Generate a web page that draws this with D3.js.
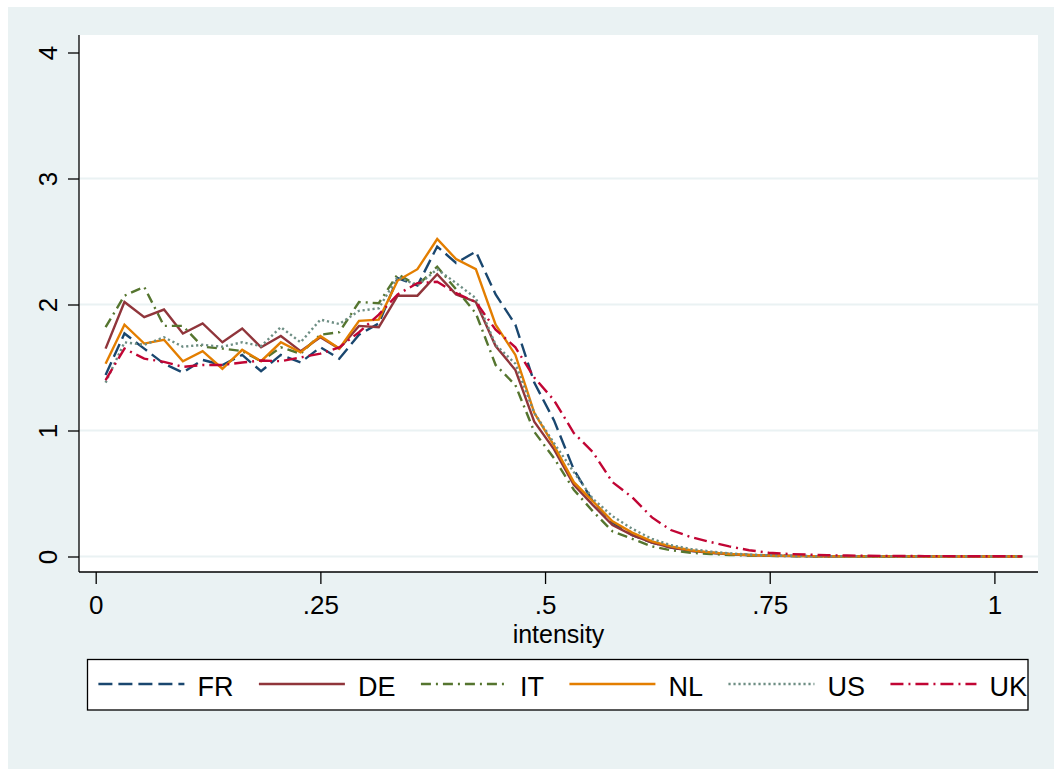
<!DOCTYPE html>
<html>
<head>
<meta charset="utf-8">
<script src="https://cdn.jsdelivr.net/npm/d3@7"></script>
<style>
    body { margin: 0; background: #fff; }
    svg { display: block; font-family: "Liberation Sans", Arial, Helvetica, sans-serif; }
</style>
</head>
<body>
<svg id="chart" width="1054" height="769"></svg>
<script>
/*global d3 */

// bin positions on the intensity axis
var intensity = [0.011, 0.032, 0.054, 0.076, 0.097, 0.119, 0.141, 0.163, 0.184, 0.206,
    0.228, 0.250, 0.271, 0.293, 0.315, 0.336, 0.358, 0.380, 0.401, 0.423,
    0.445, 0.467, 0.488, 0.510, 0.532, 0.553, 0.575, 0.597, 0.619, 0.640,
    0.662, 0.684, 0.705, 0.727, 0.749, 0.771, 0.792, 0.814, 0.836, 0.858,
    0.879, 0.901, 0.923, 0.944, 0.966, 0.988, 1.010, 1.031];

var countries = ['FR', 'DE', 'IT', 'NL', 'US', 'UK'];

var frDensity = [1.44, 1.77, 1.65, 1.53, 1.46, 1.56, 1.52, 1.60, 1.47, 1.60,
    1.54, 1.66, 1.57, 1.76, 1.85, 2.21, 2.15, 2.46, 2.33, 2.42,
    2.08, 1.84, 1.38, 1.08, 0.69, 0.44, 0.27, 0.17, 0.11, 0.07,
    0.045, 0.03, 0.02, 0.013, 0.008, 0.005, 0.003, 0.002, 0.001, 0.001,
    0, 0, 0, 0, 0, 0, 0, 0];

var deDensity = [1.65, 2.02, 1.90, 1.96, 1.77, 1.85, 1.70, 1.81, 1.66, 1.75,
    1.63, 1.74, 1.65, 1.83, 1.82, 2.07, 2.07, 2.24, 2.08, 2.02,
    1.67, 1.48, 1.07, 0.85, 0.57, 0.41, 0.25, 0.17, 0.11, 0.07,
    0.045, 0.03, 0.018, 0.01, 0.006, 0.004, 0.003, 0.002, 0.001, 0.001,
    0, 0, 0, 0, 0, 0, 0, 0];

var itDensity = [1.82, 2.07, 2.14, 1.83, 1.83, 1.665, 1.65, 1.63, 1.55, 1.66,
    1.61, 1.76, 1.78, 2.02, 2.01, 2.24, 2.15, 2.30, 2.12, 1.93,
    1.52, 1.36, 0.99, 0.78, 0.53, 0.36, 0.20, 0.14, 0.08, 0.05,
    0.03, 0.02, 0.012, 0.008, 0.005, 0.003, 0.002, 0.001, 0.001, 0,
    0, 0, 0, 0, 0, 0, 0, 0];

var nlDensity = [1.53, 1.84, 1.69, 1.72, 1.55, 1.63, 1.49, 1.64, 1.55, 1.70,
    1.62, 1.75, 1.65, 1.87, 1.88, 2.19, 2.28, 2.52, 2.36, 2.28,
    1.84, 1.60, 1.14, 0.88, 0.59, 0.44, 0.28, 0.19, 0.12, 0.08,
    0.05, 0.033, 0.02, 0.012, 0.007, 0.005, 0.003, 0.002, 0.001, 0.001,
    0.001, 0.001, 0, 0, 0, 0, 0, 0];

var usDensity = [1.38, 1.70, 1.68, 1.74, 1.665, 1.68, 1.665, 1.70, 1.67, 1.82,
    1.70, 1.88, 1.845, 1.95, 1.97, 2.22, 2.15, 2.28, 2.17, 2.05,
    1.68, 1.53, 1.14, 0.90, 0.67, 0.46, 0.32, 0.22, 0.14, 0.09,
    0.06, 0.04, 0.025, 0.015, 0.01, 0.006, 0.004, 0.002, 0.002, 0.001,
    0.001, 0, 0, 0, 0, 0, 0, 0];

var ukDensity = [1.40, 1.65, 1.57, 1.545, 1.505, 1.52, 1.52, 1.54, 1.555, 1.55,
    1.58, 1.61, 1.66, 1.78, 1.92, 2.08, 2.17, 2.18, 2.09, 2.02,
    1.80, 1.66, 1.42, 1.24, 0.98, 0.83, 0.59, 0.47, 0.31, 0.21,
    0.155, 0.115, 0.08, 0.05, 0.03, 0.02, 0.015, 0.01, 0.008, 0.006,
    0.005, 0.004, 0.003, 0.003, 0.002, 0.002, 0.002, 0.001];

var xTicks = [0, 0.25, 0.5, 0.75, 1];
var xTickLabels = ['0', '.25', '.5', '.75', '1'];
var yTicks = [0, 1, 2, 3, 4];
var yTickLabels = ['0', '1', '2', '3', '4'];
var xTitle = 'intensity';

var densities = {
    FR: frDensity, DE: deDensity, IT: itDensity,
    NL: nlDensity, US: usDensity, UK: ukDensity
};

var lineStyles = {
    FR: { color: '#1a476f', dash: '14,6' },
    DE: { color: '#90353b', dash: null },
    IT: { color: '#55752f', dash: '10,5,2,5' },
    NL: { color: '#e37e00', dash: null },
    US: { color: '#6e8e84', dash: '2.2,2.8' },
    UK: { color: '#c10534', dash: '13,5,2,5' }
};

var bgColor = '#eaf2f3';
var plotBox = { left: 79, top: 35, right: 1038, bottom: 572 };

var $svg = d3.select('#chart');

$svg.append('rect')
    .attr('x', 8).attr('y', 7)
    .attr('width', 1046).attr('height', 762)
    .attr('fill', bgColor);

$svg.append('rect')
    .attr('x', plotBox.left).attr('y', plotBox.top)
    .attr('width', plotBox.right - plotBox.left)
    .attr('height', plotBox.bottom - plotBox.top)
    .attr('fill', '#fff');

var x = d3.scaleLinear().domain([0, 1]).range([95.7, 994.4]);
var y = d3.scaleLinear().domain([0, 4]).range([556.5, 52.5]);

// gridlines (none at the top tick)
$svg.append('g')
    .selectAll('line')
    .data(yTicks.slice(0, -1))
    .enter().append('line')
    .attr('x1', plotBox.left)
    .attr('x2', plotBox.right)
    .attr('y1', function (d) { return y(d); })
    .attr('y2', function (d) { return y(d); })
    .attr('stroke', bgColor)
    .attr('stroke-width', 2);

var line = d3.line()
    .x(function (d) { return x(d[0]); })
    .y(function (d) { return y(d[1]); });

var $lines = $svg.append('g');
countries.forEach(function (c) {
    var pts = intensity.map(function (v, i) { return [v, densities[c][i]]; });
    $lines.append('path')
        .datum(pts)
        .attr('d', line)
        .attr('fill', 'none')
        .attr('stroke', lineStyles[c].color)
        .attr('stroke-width', 2.4)
        .attr('stroke-dasharray', lineStyles[c].dash);
});

// axes
var $yAxis = $svg.append('g')
    .attr('transform', 'translate(' + plotBox.left + ',0)')
    .call(d3.axisLeft(y)
        .tickValues(yTicks)
        .tickFormat(function (d, i) { return yTickLabels[i]; })
        .tickSize(11)
        .tickSizeOuter(0));
$yAxis.select('.domain').remove();
$yAxis.selectAll('.tick line').attr('stroke', '#000').attr('stroke-width', 1.3);
$yAxis.selectAll('text')
    .attr('x', null)
    .attr('dy', null)
    .attr('transform', 'translate(-22,0) rotate(-90)')
    .attr('fill', '#000')
    .style('font-size', '26px')
    .style('font-family', 'inherit')
    .style('text-anchor', 'middle');

var $xAxis = $svg.append('g')
    .attr('transform', 'translate(0,' + plotBox.bottom + ')')
    .call(d3.axisBottom(x)
        .tickValues(xTicks)
        .tickFormat(function (d, i) { return xTickLabels[i]; })
        .tickSize(12)
        .tickSizeOuter(0));
$xAxis.select('.domain').remove();
$xAxis.selectAll('.tick line').attr('stroke', '#000').attr('stroke-width', 1.3);
$xAxis.selectAll('text')
    .attr('y', 42)
    .attr('dy', null)
    .attr('fill', '#000')
    .style('font-size', '26px')
    .style('font-family', 'inherit');

$svg.append('line')
    .attr('x1', plotBox.left).attr('x2', plotBox.left)
    .attr('y1', plotBox.top).attr('y2', plotBox.bottom)
    .attr('stroke', '#000').attr('stroke-width', 1.3);
$svg.append('line')
    .attr('x1', plotBox.left).attr('x2', plotBox.right)
    .attr('y1', plotBox.bottom).attr('y2', plotBox.bottom)
    .attr('stroke', '#000').attr('stroke-width', 1.3);

$svg.append('text')
    .attr('x', (plotBox.left + plotBox.right) / 2)
    .attr('y', 643)
    .attr('text-anchor', 'middle')
    .style('font-size', '25px')
    .text(xTitle);

// legend
$svg.append('rect')
    .attr('x', 87.5).attr('y', 659.5)
    .attr('width', 940.5).attr('height', 50.5)
    .attr('fill', '#fff')
    .attr('stroke', '#000')
    .attr('stroke-width', 1.3);

var keyLen = 86;
var lx = 98.4;
countries.forEach(function (c) {
    $svg.append('line')
        .attr('x1', lx).attr('x2', lx + keyLen)
        .attr('y1', 684).attr('y2', 684)
        .attr('stroke', lineStyles[c].color)
        .attr('stroke-width', 2.4)
        .attr('stroke-dasharray', lineStyles[c].dash);
    var $t = $svg.append('text')
        .attr('x', lx + keyLen + 13)
        .attr('y', 695.5)
        .style('font-size', '27px')
        .text(c);
    lx += keyLen + 13 + $t.node().getComputedTextLength() + 25.5;
});
</script>
</body>
</html>
